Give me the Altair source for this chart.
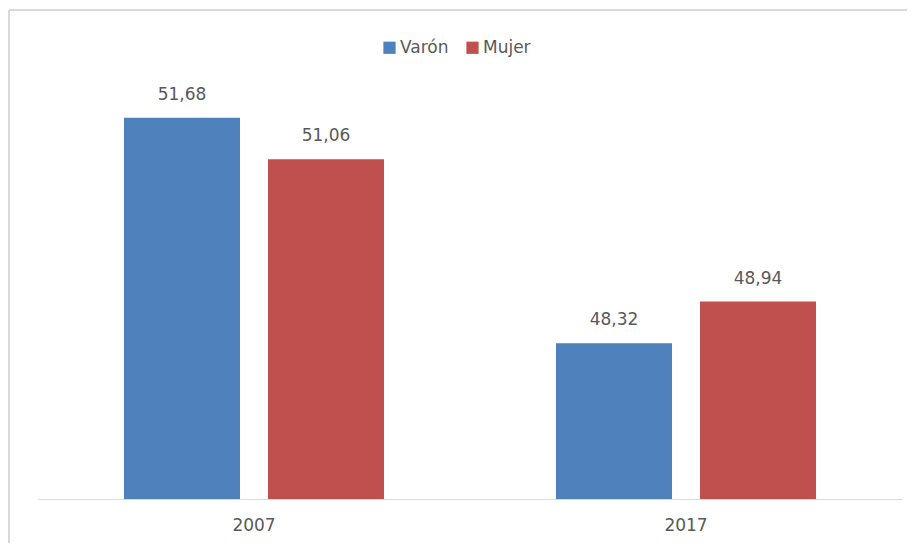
import altair as alt
import pandas as pd

years = ["2007", "2007", "2017", "2017"]
sexes = ["Varón", "Mujer", "Varón", "Mujer"]
values = [51.68, 51.06, 48.32, 48.94]
series = ["Varón", "Mujer"]
colors = ["#4F81BD", "#C0504D"]

df = pd.DataFrame({"year": years, "sex": sexes, "value": values})
df["label"] = [f"{v:.2f}".replace(".", ",") for v in values]

FONT = "DejaVu Sans"

x = alt.X("year:N", title=None,
          scale=alt.Scale(paddingInner=0, paddingOuter=0),
          axis=alt.Axis(labelAngle=0, ticks=False, domainColor="#D9D9D9",
                        domainWidth=1.2, labelFontSize=17, labelColor="#595959",
                        labelFont=FONT, labelPadding=18, grid=False))
xo = alt.XOffset("sex:N", sort=series,
                 scale=alt.Scale(paddingInner=0.1944, paddingOuter=0.597))
y = alt.Y("value:Q", scale=alt.Scale(domain=[46, 53], zero=False, nice=False),
          axis=None)

bars = alt.Chart(df).mark_bar().encode(
    x=x, xOffset=xo, y=y, y2=alt.datum(46),
    color=alt.Color("sex:N", sort=series,
                    scale=alt.Scale(domain=series, range=colors),
                    legend=alt.Legend(title=None, orient="none", direction="horizontal",
                                      legendX=343, legendY=10, symbolType="square",
                                      symbolSize=150, symbolStrokeWidth=0,
                                      labelFontSize=17, labelFont=FONT,
                                      labelColor="#595959", labelOffset=2,
                                      columnPadding=15)),
)

text = alt.Chart(df).mark_text(baseline="alphabetic", dy=-18, fontSize=17,
                               font=FONT, color="#595959").encode(
    x=x, xOffset=xo, y=y, text="label:N")

frame_v = alt.Chart(df).mark_rule(color="#D9D9D9", strokeWidth=1.5).encode(
    x=alt.value(-29), y=alt.value(-19), y2=alt.value(530))
frame_h = alt.Chart(df).mark_rule(color="#D9D9D9", strokeWidth=1.5).encode(
    x=alt.value(-29), x2=alt.value(869), y=alt.value(-19))

chart = alt.layer(frame_v, frame_h, bars, text).properties(
    width=864, height=470,
    autosize=alt.AutoSizeParams(type="none"),
    padding={"left": 30, "top": 21, "right": 7, "bottom": 44},
).configure_view(stroke=None)

chart.save("out.html", embed_options={"renderer": "svg", "actions": False})
